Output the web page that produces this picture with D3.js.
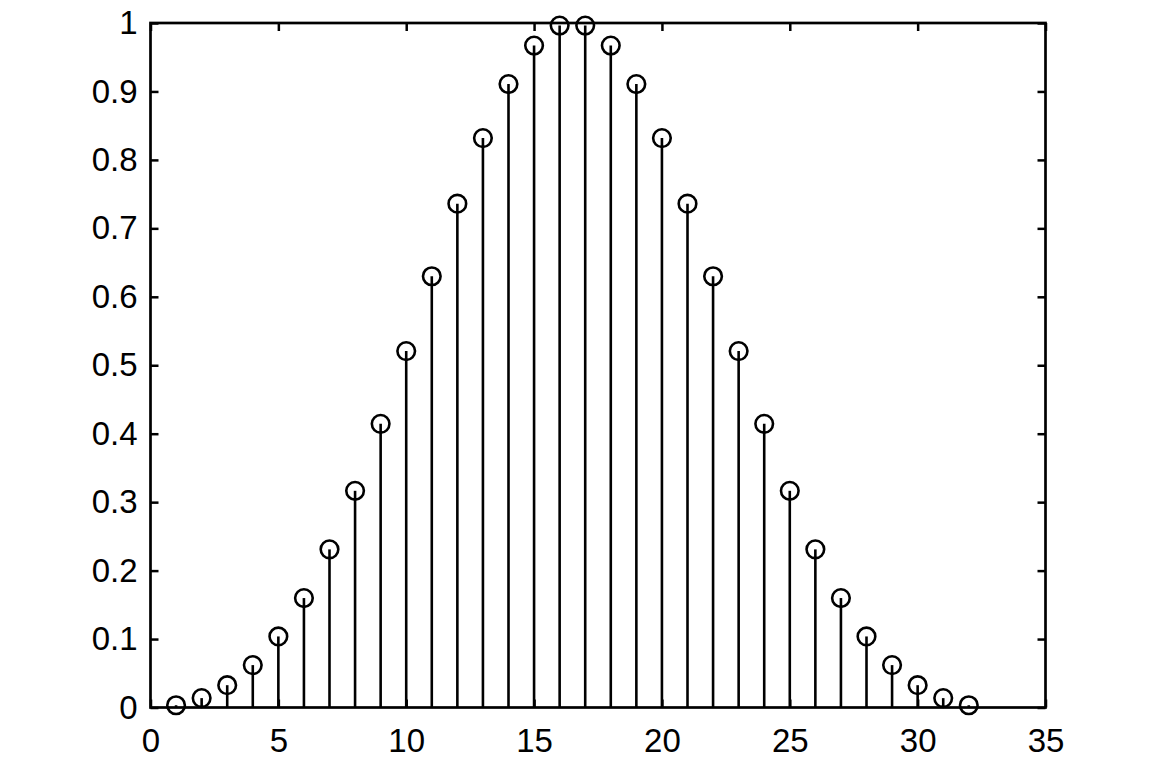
<!DOCTYPE html>
<html><head><meta charset="utf-8">
<script src="https://cdn.jsdelivr.net/npm/d3@7"></script>
<style>body{margin:0;background:#fff}svg{display:block}</style>
</head><body>
<script>
const xs = d3.range(1, 33);
const values = [0.003304,0.013715,0.032606,0.061940,0.103806,0.159903,0.231013,0.316571,
  0.414399,0.520650,0.630000,0.736045,0.831888,0.910823,0.967047,0.996290,
  0.996290,0.967047,0.910823,0.831888,0.736045,0.630000,0.520650,0.414399,
  0.316571,0.231013,0.159903,0.103806,0.061940,0.032606,0.013715,0.003304];
const xTicks = [0,5,10,15,20,25,30,35];
const yTicks = [0,0.1,0.2,0.3,0.4,0.5,0.6,0.7,0.8,0.9,1];

const W=1153,H=779, L=150.5,R=1045.5,T=23,B=707.5;
const svg=d3.select("body").append("svg").attr("width",W).attr("height",H);
const x=d3.scaleLinear().domain([0,35]).range([L,R]);
const y=d3.scaleLinear().domain([0,1]).range([B,T]);
const font="Liberation Sans, Arial, sans-serif";

const gx=svg.append("g").attr("transform",`translate(0,${B})`)
  .call(d3.axisBottom(x).tickValues(xTicks).tickSize(-8).tickPadding(21).tickFormat(d3.format("d")));
const gxt=svg.append("g").attr("transform",`translate(0,${T})`)
  .call(d3.axisTop(x).tickValues(xTicks).tickSize(-8).tickFormat(""));
const gy=svg.append("g").attr("transform",`translate(${L},0)`)
  .call(d3.axisLeft(y).tickValues(yTicks).tickSize(-8).tickPadding(13).tickFormat(d=>d===0||d===1?String(d):d3.format(".1f")(d)));
const gyr=svg.append("g").attr("transform",`translate(${R},0)`)
  .call(d3.axisRight(y).tickValues(yTicks).tickSize(-8).tickFormat(""));
[gx,gxt,gy,gyr].forEach(g=>{
  g.select(".domain").remove();
  g.selectAll(".tick line").attr("stroke","#000").attr("stroke-width",2.5);
  g.selectAll("text").attr("font-family",font).attr("font-size",33).attr("fill","#000");
});
gx.selectAll("text").attr("dy","0.71em");

const data=xs.map((d,i)=>({x:d,v:values[i]}));
svg.append("g").selectAll("line").data(data).join("line")
  .attr("x1",d=>x(d.x)).attr("x2",d=>x(d.x)).attr("y1",y(0)).attr("y2",d=>y(d.v))
  .attr("stroke","#000").attr("stroke-width",2.6);
svg.append("rect").attr("x",L).attr("y",T).attr("width",R-L).attr("height",B-T)
  .attr("fill","none").attr("stroke","#000").attr("stroke-width",2.7);
svg.append("g").selectAll("circle").data(data).join("circle")
  .attr("cx",d=>x(d.x)).attr("cy",d=>y(d.v)).attr("r",8.8)
  .attr("fill","none").attr("stroke","#000").attr("stroke-width",2.6);
</script>
</body></html>
